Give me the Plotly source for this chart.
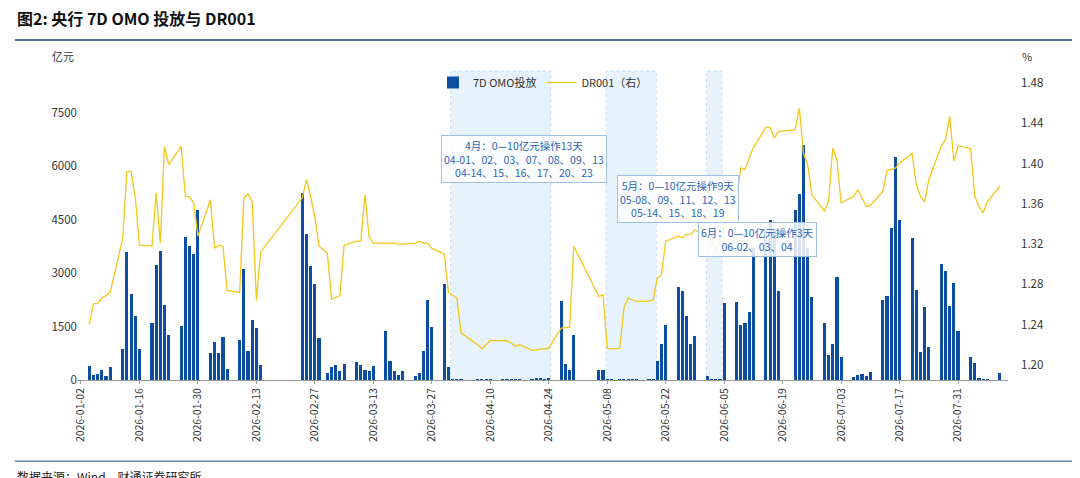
import plotly.graph_objects as go

# trading days (incl. weekend make-up days)
dates = (
    ['2026-01-%02d' % d for d in [4, 5, 6, 7, 8, 9, 12, 13, 14, 15, 16, 19, 20, 21, 22, 23, 26, 27, 28, 29, 30]]
    + ['2026-02-%02d' % d for d in [2, 3, 4, 5, 6, 9, 10, 11, 12, 13, 14, 24, 25, 26, 27, 28]]
    + ['2026-03-%02d' % d for d in [2, 3, 4, 5, 6, 9, 10, 11, 12, 13, 16, 17, 18, 19, 20, 23, 24, 25, 26, 27, 30, 31]]
    + ['2026-04-%02d' % d for d in [1, 2, 3, 7, 8, 9, 10, 13, 14, 15, 16, 17, 20, 21, 22, 23, 24, 27, 28, 29, 30]]
    + ['2026-05-%02d' % d for d in [6, 7, 8, 9, 11, 12, 13, 14, 15, 18, 19, 20, 21, 22, 25, 26, 27, 28, 29]]
    + ['2026-06-%02d' % d for d in [1, 2, 3, 4, 5, 8, 9, 10, 11, 12, 15, 16, 17, 18, 22, 23, 24, 25, 26, 29, 30]]
    + ['2026-07-%02d' % d for d in [1, 2, 3, 6, 7, 8, 9, 10, 13, 14, 15, 16, 17, 20, 21, 22, 23, 24, 27, 28, 29, 30, 31]]
    + ['2026-08-%02d' % d for d in [3, 4, 5, 6, 7, 10]]
)

omo = (
    [385, 150, 170, 290, 110, 360, 880, 3600, 2415, 1800, 880, 1600, 3240, 3630, 2115, 1255, 1525, 4020, 3775, 3550, 4765]
    + [760, 1060, 760, 1200, 320, 1130, 3130, 805, 1675, 1460, 410, 5250, 4100, 3210, 2700, 1180]
    + [200, 355, 430, 245, 460, 505, 410, 290, 260, 390, 1385, 520, 240, 150, 240, 100, 195, 805, 2255, 1480, 2705, 355]
    + [5, 5, 5, 5, 5, 5, 20, 5, 5, 5, 5, 5, 5, 40, 40, 5, 30, 2210, 460, 290, 1275]
    + [290, 290, 5, 5, 5, 5, 5, 5, 5, 5, 5, 525, 1010, 1555, 2605, 2510, 1790, 1020, 1245]
    + [100, 5, 5, 5, 2160, 2190, 1535, 1600, 1900, 3700, 4250, 4505, 4250, 2490, 4765, 5235, 6610, 3710, 2320, 1590, 710]
    + [1020, 2880, 645, 85, 130, 170, 120, 225, 2255, 2370, 4270, 6255, 4505, 3990, 2540, 780, 2050, 920, 3270, 3070, 2090, 2725, 1370]
    + [645, 480, 40, 10, 10, 195]
)

dr001 = (
    [1.240, 1.261, 1.261, 1.2665, 1.269, 1.272, 1.326, 1.392, 1.392, 1.3665, 1.319, 1.318, 1.371, 1.321, 1.417, 1.399, 1.417, 1.3675, 1.367, 1.361, 1.328]
    + [1.364, 1.316, 1.319, 1.318, 1.274, 1.272, 1.366, 1.370, 1.362, 1.264, 1.312, 1.366, 1.384, 1.367, 1.347, 1.318]
    + [1.311, 1.2655, 1.267, 1.269, 1.319, 1.323, 1.323, 1.369, 1.327, 1.321, 1.321, 1.321, 1.321, 1.320, 1.320, 1.321, 1.323, 1.321, 1.321, 1.316, 1.310, 1.272]
    + [1.269, 1.2665, 1.232, 1.2201, 1.2161, 1.2201, 1.2241, 1.2241, 1.2241, 1.2218, 1.2185, 1.2201, 1.2145, 1.215, 1.2161, 1.2161, 1.2168, 1.2367, 1.2373, 1.2375, 1.3179]
    + [1.268, 1.2698, 1.2168, 1.2161, 1.2168, 1.2565, 1.2665, 1.2648, 1.2632, 1.2632, 1.2648, 1.2864, 1.2897, 1.323, 1.328, 1.3263, 1.3296, 1.3296, 1.334]
    + [1.3263, 1.3228, 1.3145, 1.3228, 1.341, 1.3675, 1.3956, 1.394, 1.4055, 1.416, 1.436, 1.436, 1.4255, 1.432, 1.4335, 1.455, 1.41, 1.3989, 1.369, 1.353, 1.3625]
    + [1.4155, 1.404, 1.361, 1.3675, 1.374, 1.366, 1.3575, 1.3585, 1.3724, 1.393, 1.3945, 1.3955, 1.4005, 1.41, 1.379, 1.3675, 1.362, 1.384, 1.4175, 1.424, 1.447, 1.4025, 1.4175]
    + [1.415, 1.3675, 1.3575, 1.351, 1.362, 1.3775]
)

tick_dates = ['2026-01-02', '2026-01-16', '2026-01-30', '2026-02-13', '2026-02-27', '2026-03-13',
              '2026-03-27', '2026-04-10', '2026-04-24', '2026-05-08', '2026-05-22', '2026-06-05',
              '2026-06-19', '2026-07-03', '2026-07-17', '2026-07-31']

# low-injection windows (0-10亿元)
shade_windows = [('2026-03-31 12:00', '2026-04-24 12:00'),
                 ('2026-05-07 18:00', '2026-05-19 18:00'),
                 ('2026-05-31 18:00', '2026-06-04 12:00')]

notes = [
    ('2026-04-18', 1.405, '4月：0—10亿元操作13天<br>04-01、02、03、07、08、09、13<br>04-14、15、16、17、20、23'),
    ('2026-05-25', 1.365, '5月：0—10亿元操作9天<br>05-08、09、11、12、13<br>05-14、15、18、19'),
    ('2026-06-13', 1.325, '6月：0—10亿元操作3天<br>06-02、03、04'),
]

FONT = 'Noto Sans CJK SC'
BLUE = '#0b4ea2'
YELLOW = '#f5c518'

fig = go.Figure()
fig.add_trace(go.Bar(x=dates, y=omo, name='7D OMO投放', marker=dict(color=BLUE, line=dict(width=0)),
                     width=0.75 * 86400000))
fig.add_trace(go.Scatter(x=dates, y=dr001, name='DR001（右）', mode='lines',
                         line=dict(color=YELLOW, width=1.3), yaxis='y2'))

for x0, x1 in shade_windows:
    fig.add_shape(type='rect', x0=x0, x1=x1, y0=0, y1=0.99, xref='x', yref='paper', layer='below',
                  fillcolor='rgba(214,234,250,0.6)', line=dict(color='#c5dcf0', width=1, dash='dot'))

for x, y, t in notes:
    fig.add_annotation(x=x, y=y, xref='x', yref='y2', text=t, showarrow=False,
                       font=dict(family=FONT, size=10.5, color='#2a66b8'),
                       bgcolor='rgba(255,255,255,0.85)', bordercolor='#9cc0e6', borderwidth=1, borderpad=2)

fig.add_annotation(x=0, y=1.0, xref='paper', yref='paper', xanchor='right', yanchor='bottom', text='亿元',
                   showarrow=False, font=dict(family=FONT, size=11, color='#333'), xshift=-2, yshift=2)
fig.add_annotation(x=1, y=1.0, xref='paper', yref='paper', xanchor='left', yanchor='bottom', text='%',
                   showarrow=False, font=dict(family=FONT, size=11, color='#333'), xshift=12, yshift=2)

# title, rules and source
fig.add_annotation(x=-0.068, y=1.115, xref='paper', yref='paper', xanchor='left', yanchor='bottom',
                   text='<b>图2: 央行 7D OMO 投放与 DR001</b>', showarrow=False,
                   font=dict(family=FONT, size=16, color='#111'))
fig.add_shape(type='line', x0=-0.068, x1=1.075, y0=1.09, y1=1.09, xref='paper', yref='paper',
              line=dict(color='#1f3d7a', width=1.5))
fig.add_shape(type='line', x0=-0.068, x1=1.075, y0=-0.26, y1=-0.26, xref='paper', yref='paper',
              line=dict(color='#1f3d7a', width=1))
fig.add_annotation(x=-0.068, y=-0.275, xref='paper', yref='paper', xanchor='left', yanchor='top',
                   text='数据来源：Wind、财通证券研究所', showarrow=False,
                   font=dict(family=FONT, size=12, color='#222'))

fig.update_layout(
    width=1080, height=478,
    margin=dict(l=70, r=80, t=60, b=106),
    plot_bgcolor='white', paper_bgcolor='white',
    font=dict(family=FONT, size=11, color='#333'),
    bargap=0,
    showlegend=True,
    legend=dict(orientation='h', x=0.5, xanchor='center', y=1.0, yanchor='top',
                font=dict(family=FONT, size=11, color='#333'), bgcolor='rgba(0,0,0,0)'),
    xaxis=dict(type='date', range=['2026-01-01 07:00', '2026-08-11 23:00'],
               tickvals=tick_dates, ticktext=tick_dates, tickangle=-90,
               showgrid=False, showline=True, linecolor='#999', ticks='outside', ticklen=3, tickcolor='#999',
               tickfont=dict(size=10.5)),
    yaxis=dict(range=[0, 8760], tickvals=[0, 1500, 3000, 4500, 6000, 7500], showgrid=False,
               zeroline=False, showline=False, tickfont=dict(size=11.5)),
    yaxis2=dict(range=[1.1851, 1.4949], overlaying='y', side='right', showgrid=False,
                tickvals=[1.20, 1.24, 1.28, 1.32, 1.36, 1.40, 1.44, 1.48], tickformat='.2f',
                showline=False, zeroline=False, tickfont=dict(size=11.5), ticklabelstandoff=12),
)

fig.write_html('out.html')
